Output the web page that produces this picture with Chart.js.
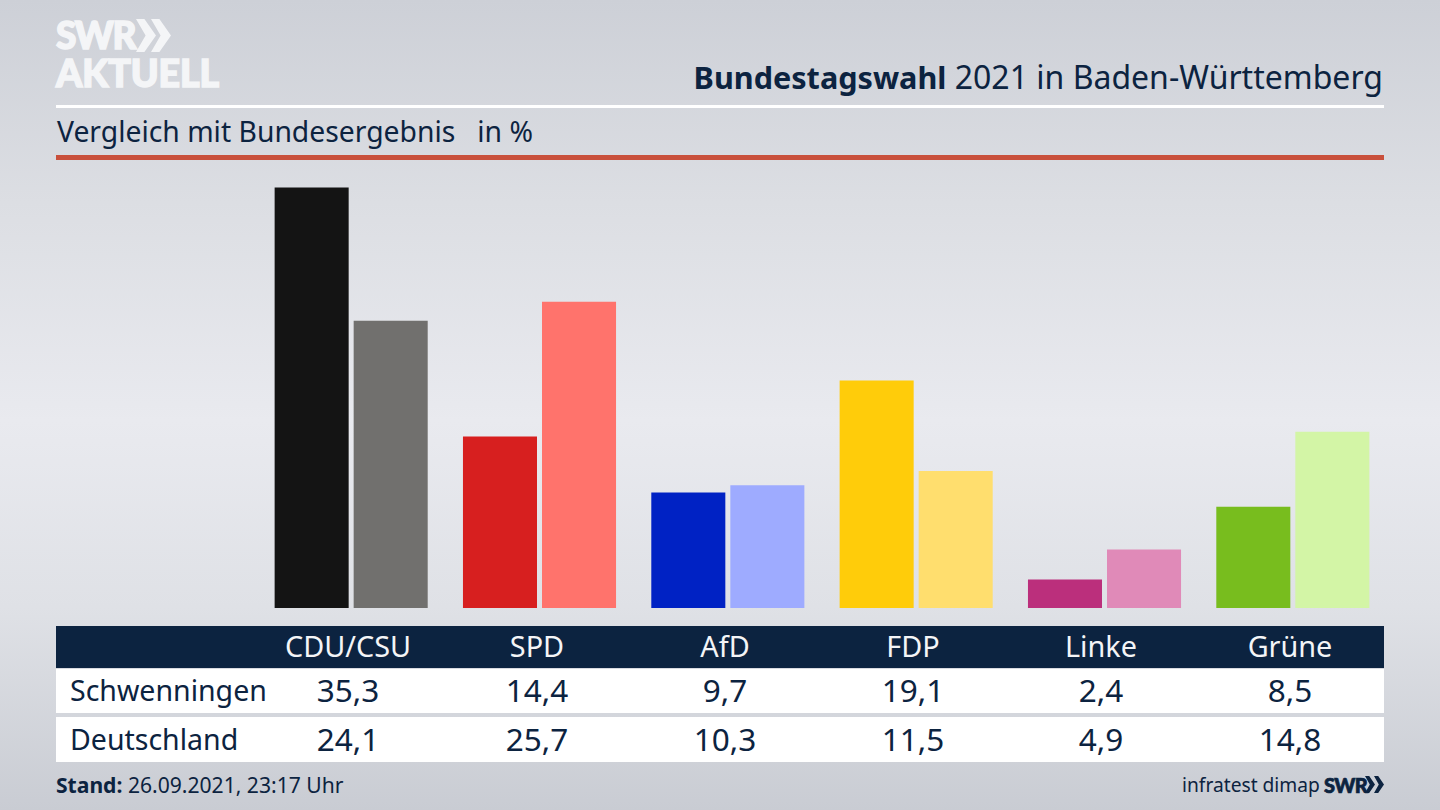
<!DOCTYPE html>
<html lang="de">
<head>
<meta charset="utf-8">
<script src="https://cdn.jsdelivr.net/npm/chart.js@4"></script>
<style>
html, body { margin: 0; padding: 0; }
body {
  width: 1440px; height: 810px; position: relative; overflow: hidden;
  background: linear-gradient(180deg, #cdd0d7 0%, #dcdee3 25%, #e9eaef 52%, #dfe1e6 75%, #c9ccd3 100%);
  font-family: "Noto Sans", sans-serif; color: #0c2340;
}
.abs { position: absolute; white-space: nowrap; }
.band { position: absolute; left: 56px; width: 1328px; }
.cell { position: absolute; transform: translateX(-50%); white-space: nowrap; }
.chev { position: absolute; clip-path: polygon(0 0, 42% 0, 100% 50%, 42% 100%, 0 100%, 48% 50%); }
#chartBox { position: absolute; left: 257px; top: 160px; width: 1130px; height: 448px; }
</style>
</head>
<body>
<div class="abs" style="left:56px;top:11px;font:900 37px/48px Lato,sans-serif;color:#f4f5f7;-webkit-text-stroke:1.5px #f4f5f7;letter-spacing:-1.4px">SWR</div>
<div class="chev" style="left:136px;top:19px;width:20px;height:33px;background:#f4f5f7"></div>
<div class="chev" style="left:151px;top:19px;width:20px;height:33px;background:#f4f5f7"></div>
<div class="abs" style="left:56px;top:49px;font:900 37.5px/48px Lato,sans-serif;color:#f4f5f7;-webkit-text-stroke:1.5px #f4f5f7;letter-spacing:-.1px">AKTUELL</div>

<div class="abs" style="right:57px;top:55px;font-size:32px;line-height:44px"><b style="font-size:30.6px">Bundestagswahl</b> 2021 in Baden-Württemberg</div>
<div class="band" style="top:105px;height:3px;background:#fff"></div>
<div class="abs" style="left:57px;top:111px;font-size:28.3px;line-height:40px">Vergleich mit Bundesergebnis&nbsp;&nbsp; in %</div>
<div class="band" style="top:155px;height:5px;background:#c9503c"></div>

<div id="chartBox"><canvas id="myChart"></canvas></div>

<div class="band" id="rowHead" style="top:626px;height:42px;background:#0c2340"></div>
<div class="band" id="rowA" style="top:669px;height:44px;background:#fff"></div>
<div class="band" id="rowB" style="top:717px;height:45px;background:#fff"></div>

<div class="abs" style="left:56px;top:770px;font-size:21.1px;line-height:30px"><b>Stand:</b> 26.09.2021, 23:17 Uhr</div>
<div class="abs" style="left:1182px;top:770px;font-size:19.2px;line-height:30px">infratest dimap</div>
<div class="abs" style="left:1324px;top:770px;font:900 20px/30px Lato,sans-serif;-webkit-text-stroke:.7px #0c2340;letter-spacing:-.6px">SWR</div>
<div class="chev" style="left:1365px;top:776px;width:10px;height:17px;background:#0c2340"></div>
<div class="chev" style="left:1374px;top:776px;width:10px;height:17px;background:#0c2340"></div>

<script>
const parties = ['CDU/CSU', 'SPD', 'AfD', 'FDP', 'Linke', 'Grüne'];
const schwenningen = [35.3, 14.4, 9.7, 19.1, 2.4, 8.5];
const deutschland = [24.1, 25.7, 10.3, 11.5, 4.9, 14.8];
const colorsLocal = ['#141414', '#d71f1f', '#0022c4', '#ffcc0a', '#bb2f7c', '#78bd1e'];
const colorsFederal = ['#71706e', '#ff736c', '#9eabff', '#ffde6e', '#e08ab8', '#d3f5a6'];

const ctx = document.getElementById('myChart').getContext('2d');
const myChart = new Chart(ctx, {
    type: 'bar',
    data: {
        labels: parties,
        datasets: [
            { label: 'Schwenningen', data: schwenningen, backgroundColor: colorsLocal },
            { label: 'Deutschland', data: deutschland, backgroundColor: colorsFederal }
        ]
    },
    options: {
        responsive: true,
        maintainAspectRatio: false,
        animation: false,
        categoryPercentage: 0.8393,
        barPercentage: 0.9367,
        layout: { padding: 0 },
        plugins: { legend: { display: false }, tooltip: { enabled: false } },
        scales: {
            x: { display: false },
            y: { display: false, min: 0, max: 37.6 }
        }
    }
});

// table under the chart, text columns sit on the left bar of each group
const columnX = [348, 537, 725, 913, 1101, 1290];
function addRow(id, values, rowTop, size, color, name, nameSize) {
    const row = document.getElementById(id);
    values.forEach(function(v, i) {
        const el = document.createElement('div');
        el.className = 'cell';
        el.textContent = v;
        el.style.cssText = 'left:' + (columnX[i] - 56) + 'px;top:' + rowTop + 'px;font-size:' + size + 'px;line-height:40px;color:' + color;
        row.appendChild(el);
    });
    if (name) {
        const el = document.createElement('div');
        el.className = 'abs';
        el.textContent = name;
        el.style.cssText = 'left:14px;top:' + rowTop + 'px;font-size:' + nameSize + 'px;line-height:40px;color:' + color;
        row.appendChild(el);
    }
}
const fmt = function(v) { return v.toFixed(1).replace('.', ','); };
addRow('rowHead', parties, 0, 28.8, '#f4f5f7');
addRow('rowA', schwenningen.map(fmt), 1, 31.5, '#0c2340', 'Schwenningen', 28.5);
addRow('rowB', deutschland.map(fmt), 2, 31.5, '#0c2340', 'Deutschland', 28.5);
</script>
</body>
</html>
